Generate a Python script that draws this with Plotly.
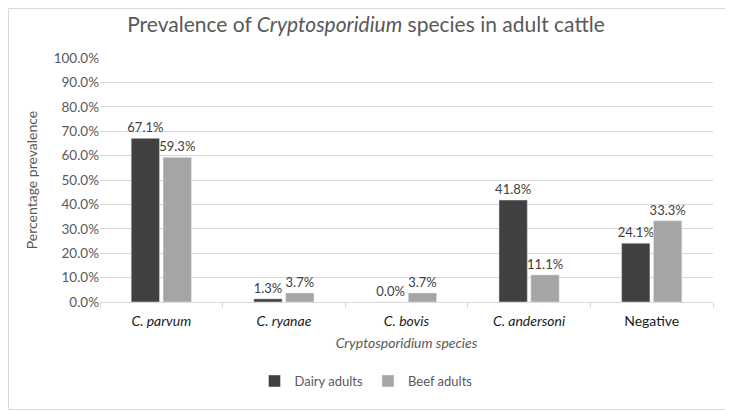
import plotly.graph_objects as go

categories = ["<i>C. parvum</i>", "<i>C. ryanae</i>", "<i>C. bovis</i>", "<i>C. andersoni</i>", "Negative"]
dairy_adults = [67.1, 1.3, 0.0, 41.8, 24.1]
beef_adults = [59.3, 3.7, 3.7, 11.1, 33.3]
y_ticks = [0, 10, 20, 30, 40, 50, 60, 70, 80, 90, 100]
y_tick_labels = [f"{v:.1f}%" for v in y_ticks]

FONT = "Lato, Open Sans, sans-serif"
TXT = "#595959"

fig = go.Figure()
for name, vals, col in [("Dairy adults", dairy_adults, "#404040"), ("Beef adults", beef_adults, "#a5a5a5")]:
    fig.add_trace(go.Bar(name=name, x=categories, y=vals, marker_color=col,
                         text=[f"{v:.1f}%" for v in vals], textposition="outside",
                         textfont=dict(size=13, color="#404040", family=FONT),
                         cliponaxis=False))

# page has an 8px body margin; figure positioned accordingly
W, H = 725, 403
L, R, T, B = 92, 20, 50, 109
pw, ph = W - L - R, H - T - B

fig.update_layout(
    width=W, height=H,
    margin=dict(l=L, r=R, t=T, b=B, autoexpand=False),
    paper_bgcolor="white", plot_bgcolor="white",
    font=dict(family=FONT, color=TXT, size=13),
    uniformtext=dict(minsize=13, mode="show"),
    title=dict(text="Prevalence of <i>Cryptosporidium</i> species in adult cattle",
               x=(358) / W, xanchor="center", y=1 - 17 / H, yanchor="middle",
               font=dict(size=21, color=TXT, family=FONT)),
    barmode="group", bargap=0.48, bargroupgap=0.11,
    xaxis=dict(title=dict(text="<i>Cryptosporidium species</i>", font=dict(size=14, color=TXT), standoff=10),
               automargin=False,
               showline=True, linecolor="#d9d9d9", ticks="outside", ticklen=5, tickcolor="#d9d9d9",
               tickson="boundaries", ticklabelstandoff=6, tickfont=dict(size=14, color="#1a1a1a")),
    yaxis=dict(title=dict(text="Percentage prevalence", font=dict(size=14, color=TXT), standoff=12),
               automargin=False,
               range=[0, 100], tickvals=y_ticks, ticktext=y_tick_labels,
               gridcolor="#d9d9d9", zeroline=False, showline=False,
               tickfont=dict(size=13.5, color=TXT)),
    legend=dict(orientation="h", x=(358 - L) / pw, xanchor="center", y=-(79) / ph, yanchor="middle",
                font=dict(size=13, color=TXT), traceorder="normal", itemwidth=30),
    shapes=[dict(type="rect", xref="paper", yref="paper",
                 x0=-(L - 0.5) / pw, x1=1 + (R - 1.5) / pw, y0=-(B - 1.5) / ph, y1=1 + (T - 0.5) / ph,
                 line=dict(color="#d9d9d9", width=1))],
)

fig.write_html("out.html")
